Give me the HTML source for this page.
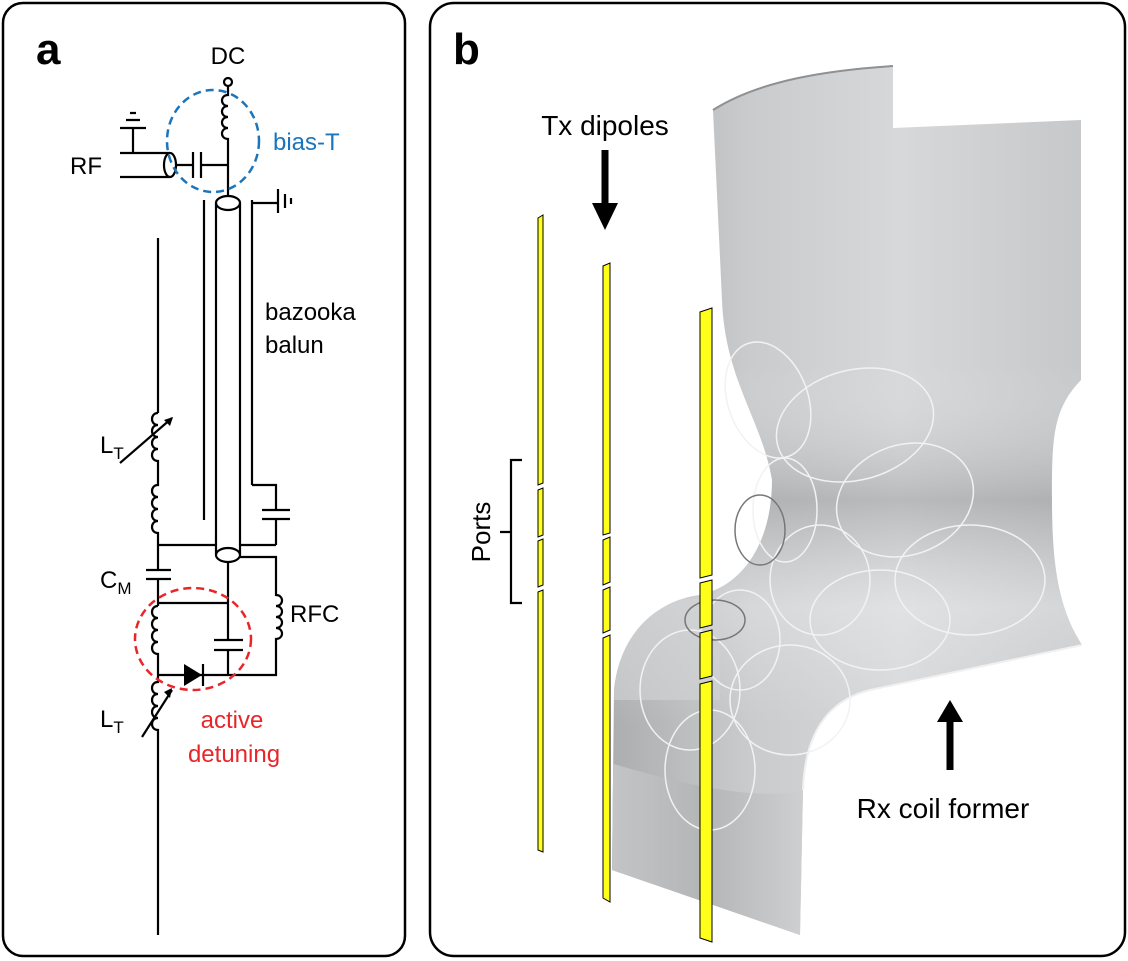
<!DOCTYPE html>
<html><head><meta charset="utf-8"><style>
html,body{margin:0;padding:0;background:#fff;}
svg{display:block;font-family:"Liberation Sans",Arial,sans-serif;}
</style></head><body>
<svg width="1128" height="961" viewBox="0 0 1128 961" xmlns="http://www.w3.org/2000/svg">
<defs>
<linearGradient id="gTop" x1="0" x2="1" y1="0" y2="0">
<stop offset="0" stop-color="#a9abad"/><stop offset="0.3" stop-color="#c9cbcd"/><stop offset="0.6" stop-color="#d6d8da"/><stop offset="1" stop-color="#c4c6c8"/></linearGradient>
<linearGradient id="gV" x1="0" x2="0" y1="0" y2="1">
<stop offset="0" stop-color="#fff" stop-opacity="0"/><stop offset="0.35" stop-color="#fff" stop-opacity="0"/><stop offset="0.5" stop-color="#808284" stop-opacity="0.35"/><stop offset="0.62" stop-color="#ffffff" stop-opacity="0.25"/><stop offset="0.75" stop-color="#fff" stop-opacity="0"/><stop offset="1" stop-color="#fff" stop-opacity="0"/></linearGradient>
<linearGradient id="gBot" x1="0" x2="1" y1="0" y2="0">
<stop offset="0" stop-color="#c4c6c8"/><stop offset="0.5" stop-color="#b3b5b7"/><stop offset="1" stop-color="#cfd1d3"/></linearGradient>
<clipPath id="cp"><path d="M713 110 C760 80 830 70 893 66 V128 L1081 120 V380 C1052 410 1052 440 1052 500 C1052 570 1060 610 1082 645 L870 690 C830 700 805 730 803 790 L800 935 L612 870 L614 690 C620 630 660 600 700 595 C745 585 772 540 772 480 C762 420 725 380 722 300 Z"/></clipPath>
</defs>
<rect x="3" y="3" width="402" height="953" rx="20" fill="none" stroke="#000" stroke-width="2.5"/>
<rect x="430" y="3" width="695" height="953" rx="24" fill="none" stroke="#000" stroke-width="2.5"/>
<text x="36" y="64" font-size="44" font-weight="bold">a</text>
<text x="453" y="64" font-size="44" font-weight="bold">b</text>

<g stroke="#000" stroke-width="2.2" fill="none">
<circle cx="228" cy="82" r="4"/>
<path d="M228 86 V95 c-8 0 -8 11 0 11 c-8 0 -8 11 0 11 c-8 0 -8 11 0 11 c-8 0 -8 11 0 11 V196"/>
<path d="M120 153 H170 M120 177 H170"/>
<ellipse cx="170" cy="165" rx="6" ry="12"/>
<path d="M176 165 H193 M193 152 V178 M201 152 V178 M201 165 H228"/>
<path d="M133 153 V128 M120 128 H146 M126 120 H140 M130 113 H136"/>
<path d="M204 200 V520 M252 200 V485"/>
<path d="M216 203 V555 M240 203 V555"/>
<ellipse cx="228" cy="203" rx="12" ry="7"/>
<ellipse cx="228" cy="555" rx="12" ry="7"/>
<path d="M252 203 H278 M278 189 V213 M285 194 V208 M291 198 V204"/>
<path d="M252 485 H276 V510 M262 510 H290 M262 519 H290 M276 519 V545"/>
<path d="M158 238 V413"/>
<path d="M158 413 c-8 0 -8 12 0 12 c-8 0 -8 12 0 12 c-8 0 -8 12 0 12 c-8 0 -8 12 0 12 V485 c-8 0 -8 12 0 12 c-8 0 -8 12 0 12 c-8 0 -8 12 0 12 c-8 0 -8 12 0 12 V570"/>
<path d="M120 463 L172 418" />
<path d="M158 545 H216 M240 545 H276 V545"/>
<path d="M146 570 H171 M146 579 H171 M158 579 V606"/>
<path d="M158 603 H228 M228 562 V640 M214 640 H243 M214 650 H243 M228 650 V675"/>
<path d="M240 557 H276 V595 c8 0 8 11 0 11 c8 0 8 11 0 11 c8 0 8 11 0 11 c8 0 8 11 0 11 V675 H158"/>
<path d="M158 606 c-8 0 -8 12 0 12 c-8 0 -8 12 0 12 c-8 0 -8 12 0 12 c-8 0 -8 12 0 12 V682 c-8 0 -8 12 0 12 c-8 0 -8 12 0 12 c-8 0 -8 12 0 12 c-8 0 -8 12 0 12 V935"/>
<path d="M142 737 L172 690"/>
<path d="M203 664 V686"/>
</g>
<polygon points="184,664 184,686 202,675" fill="#000"/>
<polygon points="172,688 164,692 170,698" fill="#000"/>
<polygon points="173,417 164,420 170,426" fill="#000"/>
<ellipse cx="213" cy="141" rx="46" ry="51" fill="none" stroke="#1a75bc" stroke-width="2.5" stroke-dasharray="8,5"/>
<ellipse cx="193" cy="639" rx="58" ry="51" fill="none" stroke="#e8262a" stroke-width="2.5" stroke-dasharray="8,5"/>
<g font-size="24">
<text x="228" y="64" text-anchor="middle">DC</text>
<text x="70" y="174">RF</text>
<text x="273" y="150" fill="#1a75bc">bias-T</text>
<text x="265" y="320">bazooka</text>
<text x="265" y="353">balun</text>
<text x="100" y="453">L<tspan font-size="17" dy="6">T</tspan></text>
<text x="100" y="588">C<tspan font-size="17" dy="6">M</tspan></text>
<text x="290" y="622">RFC</text>
<text x="100" y="727">L<tspan font-size="17" dy="6">T</tspan></text>
<text x="232" y="728" fill="#e8262a" text-anchor="middle">active</text>
<text x="234" y="762" fill="#e8262a" text-anchor="middle">detuning</text>
</g>

<g clip-path="url(#cp)">
<rect x="600" y="50" width="500" height="900" fill="url(#gTop)"/>
<rect x="600" y="50" width="500" height="900" fill="url(#gV)"/>
<path d="M600 760 C700 790 760 800 810 790 L810 950 L600 950 Z" fill="url(#gBot)"/>
<path d="M600 640 C640 600 680 595 720 600 L720 700 L600 700 Z" fill="#d2d4d6" opacity="0.6"/>
</g>
<path d="M713 110 C760 80 830 70 893 66" fill="none" stroke="#8e9092" stroke-width="2"/>
<path d="M803 790 C805 730 830 700 870 690 L1082 645" fill="none" stroke="#f0f0f0" stroke-width="2"/>
<g fill="none" stroke="#f2f2f2" stroke-width="1.5">
<ellipse cx="768" cy="400" rx="40" ry="60" transform="rotate(-20 768 400)"/>
<ellipse cx="855" cy="425" rx="80" ry="55" transform="rotate(-15 855 425)"/>
<ellipse cx="905" cy="500" rx="70" ry="55" transform="rotate(-20 905 500)"/>
<ellipse cx="785" cy="510" rx="32" ry="52"/>
<ellipse cx="820" cy="580" rx="50" ry="55"/>
<ellipse cx="970" cy="580" rx="75" ry="55"/>
<ellipse cx="880" cy="620" rx="70" ry="50"/>
<ellipse cx="740" cy="640" rx="40" ry="50"/>
<ellipse cx="690" cy="690" rx="50" ry="60"/>
<ellipse cx="710" cy="770" rx="45" ry="60"/>
<ellipse cx="790" cy="700" rx="60" ry="55"/>
</g>
<g fill="none" stroke="#777" stroke-width="1.5">
<ellipse cx="760" cy="530" rx="25" ry="35"/>
<ellipse cx="715" cy="620" rx="30" ry="20"/>
</g>
<g fill="#ffff1a" stroke="#000" stroke-width="1">
<polygon points="538,218 543,215 543,483 538,485"/>
<polygon points="538,490 543,488 543,535 538,537"/>
<polygon points="538,541 543,539 543,585 538,587"/>
<polygon points="538,592 543,590 543,852 538,850"/>
<polygon points="603,266 610,263 610,533 603,535"/>
<polygon points="603,540 610,537 610,582 603,585"/>
<polygon points="603,590 610,587 610,630 603,633"/>
<polygon points="603,638 610,635 610,902 603,898"/>
<polygon points="700,312 712,308 712,575 700,578"/>
<polygon points="700,583 712,580 712,625 700,628"/>
<polygon points="700,633 712,630 712,676 700,679"/>
<polygon points="700,684 712,681 712,942 700,938"/>
</g>
<path d="M522 460 H511 V603 H522 M511 532 H500" fill="none" stroke="#000" stroke-width="2.2"/>
<text x="490" y="532" font-size="26" text-anchor="middle" transform="rotate(-90 490 532)">Ports</text>
<text x="605" y="135" font-size="28" text-anchor="middle">Tx dipoles</text>
<path d="M605 150 V205" stroke="#000" stroke-width="7"/>
<polygon points="592,203 618,203 605,230" fill="#000"/>
<path d="M950 770 V720" stroke="#000" stroke-width="7"/>
<polygon points="937,722 963,722 950,700" fill="#000"/>
<text x="943" y="818" font-size="28" text-anchor="middle">Rx coil former</text>
</svg>
</body></html>
